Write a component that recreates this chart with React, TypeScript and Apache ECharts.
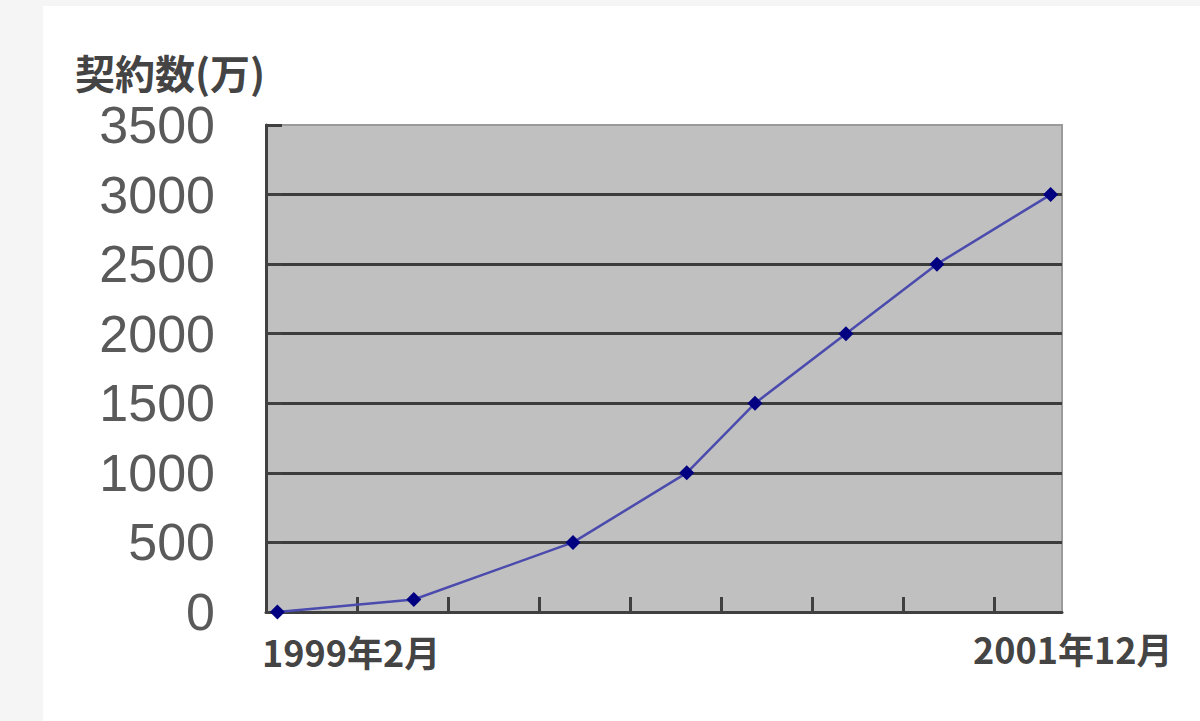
import React, { useEffect, useRef } from "react";
import * as echarts from "echarts";

// Months (year-month) of each observation and subscriber counts (万)
const obsMonths = ["1999-02", "1999-08", "2000-03", "2000-08", "2000-11", "2001-03", "2001-07", "2001-12"];
const subscribers = [0, 90, 500, 1000, 1500, 2000, 2500, 3000];
const yTicks = [0, 500, 1000, 1500, 2000, 2500, 3000, 3500];
const xTickMonths = [0, 4, 8, 12, 16, 20, 24, 28, 32];
const startLabel = "1999年2月";
const endLabel = "2001年12月";
const yTitle = "契約数(万)";

const monthIndex = (ym: string) => {
  const [y, m] = ym.split("-").map(Number);
  return (y - 1999) * 12 + (m - 2) + 0.5; // centre of the month
};

export default function App() {
  const ref = useRef<HTMLDivElement>(null);
  useEffect(() => {
    if (!ref.current) return;
    const chart = echarts.init(ref.current, null, { renderer: "svg" });
    const data = obsMonths.map((m, i) => [monthIndex(m), subscribers[i]]);
    chart.setOption({
      animation: false,
      backgroundColor: "#f5f5f5",
      graphic: [
        { type: "rect", z: -10, shape: { x: 43, y: 6, width: 1157, height: 715 }, style: { fill: "#ffffff" } },
        {
          type: "text", left: 75, top: 52,
          style: { text: yTitle, fontSize: 40, fontWeight: "bold", fill: "#444", fontFamily: "Noto Sans CJK JP" },
        },
        {
          type: "text", left: 262, top: 633,
          style: { text: startLabel, fontSize: 36, fontWeight: "bold", fill: "#444", fontFamily: "Noto Sans CJK JP" },
        },
        {
          type: "text", left: 973, top: 630,
          style: { text: endLabel, fontSize: 36, fontWeight: "bold", fill: "#444", fontFamily: "Noto Sans CJK JP" },
        },
      ],
      grid: {
        left: 266, top: 125, width: 796, height: 487,
        show: true, backgroundColor: "#c0c0c0", borderColor: "#9a9a9a", borderWidth: 2,
        containLabel: false,
      },
      xAxis: {
        type: "value", min: 0, max: 35, interval: 4,
        axisLine: { show: true, onZero: false, lineStyle: { color: "#404040", width: 3 } },
        axisTick: { show: true, inside: true, length: 15, customValues: xTickMonths, lineStyle: { color: "#404040", width: 3 } },
        axisLabel: { show: false },
        splitLine: { show: false },
      },
      yAxis: {
        type: "value", min: 0, max: 3500, interval: 500,
        axisLine: { show: true, lineStyle: { color: "#404040", width: 3 } },
        axisTick: { show: true, inside: true, length: 16, customValues: yTicks, lineStyle: { color: "#404040", width: 3 } },
        axisLabel: {
          show: true, customValues: yTicks, margin: 51, fontSize: 52,
          formatter: (v: number) => String(v),
          color: "#5a5a5a", fontFamily: "Liberation Sans, Arial, sans-serif",
        },
        splitLine: { show: true, showMaxLine: false, lineStyle: { color: "#3c3c3c", width: 3 } },
      },
      series: [
        {
          type: "line",
          data,
          symbol: "diamond",
          symbolSize: 15,
          itemStyle: { color: "#000080" },
          lineStyle: { color: "#4b4bae", width: 2.5 },
        },
      ],
    });
    return () => chart.dispose();
  }, []);
  return <div ref={ref} style={{ position: "absolute", left: 0, top: 0, width: 1200, height: 721 }} />;
}
